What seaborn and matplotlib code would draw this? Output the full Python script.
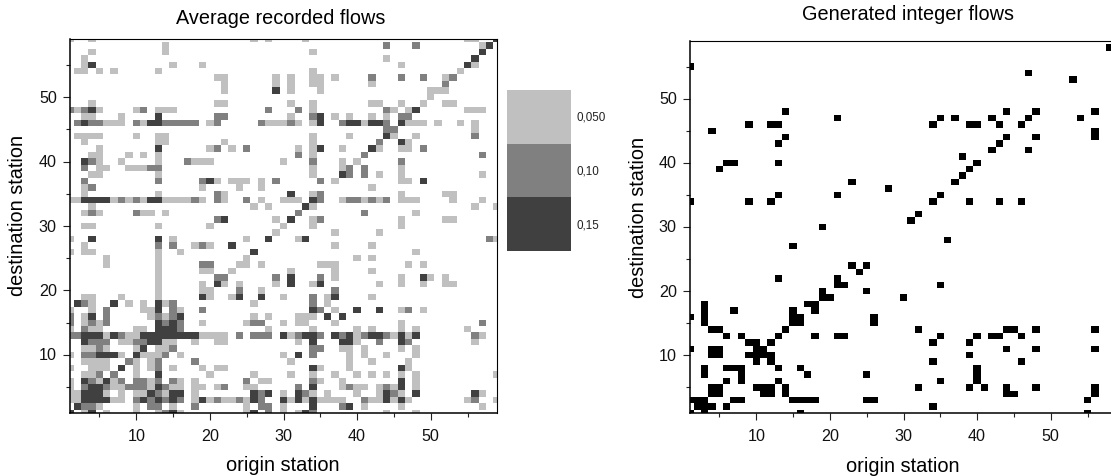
import numpy as np
import pandas as pd
import matplotlib.pyplot as plt
import seaborn as sns
from matplotlib.colors import ListedColormap
from matplotlib.ticker import FixedLocator

plt.rcParams['font.family'] = ['Liberation Sans', 'DejaVu Sans']

# destination station -> origin stations, one dict per flow level
flow_050 = {
    59: [1, 4, 26, 28, 33, 55, 56], 58: [14, 57], 57: [4, 14, 34], 56: [3, 44], 55: [3, 15, 19, 46, 56],
    54: [2, 3, 5, 7, 13, 34, 54], 53: [21, 22, 29, 31, 34, 35, 37, 52], 52: [22, 29, 31, 34, 35, 42],
    51: [22, 31, 35, 50, 51, 52], 50: [50], 49: [4, 21, 22, 31, 34, 42, 43, 46, 49, 52, 53],
    48: [2, 5, 10, 13, 14, 15, 34, 45, 47, 55, 56, 57], 47: [3, 4, 8, 31, 37, 39, 42, 44],
    46: [6, 7, 8, 11, 20, 28, 29, 30, 32, 34, 41, 47, 48, 49, 51, 54, 56], 45: [56],
    44: [2, 3, 4, 5, 10, 13, 14, 34, 39, 45, 48], 43: [3, 13, 14, 22, 34, 47],
    42: [5, 20, 23, 32, 34, 38, 43, 46, 47], 41: [4, 5, 9, 11, 13, 34],
    40: [5, 8, 13, 18, 19, 20, 30, 38, 40], 39: [5, 6, 9, 10, 11, 34, 38, 46],
    38: [4, 5, 13, 34, 43, 46, 57], 37: [21, 23, 24, 25, 27, 37, 46, 47], 36: [3, 19, 24, 27, 42],
    35: [3, 13, 22, 34, 46, 52, 53],
    34: [1, 2, 7, 9, 11, 14, 15, 16, 17, 19, 22, 27, 30, 31, 32, 38, 41, 43, 46, 47, 48, 53, 57],
    33: [4, 26, 28, 34, 56, 59], 32: [3, 5, 11, 12, 14, 48], 31: [29, 34, 46, 52, 53],
    30: [3, 4, 13, 20, 30, 34, 46], 29: [29, 37, 43], 28: [1, 15, 25, 32, 59],
    27: [3, 18, 20, 37, 42], 26: [1, 3, 4, 13, 16, 48], 25: [6, 13, 25, 40, 42],
    24: [6, 13, 24, 25, 27, 35, 36, 37, 47, 49], 23: [13, 19, 20, 23, 31, 37, 42],
    22: [13, 37, 46, 50, 52], 21: [13, 19, 22, 24, 29, 34, 43, 46, 49, 52, 53], 20: [13, 19, 20, 27],
    19: [3, 4, 8, 13, 20, 23, 30, 36, 42], 18: [4, 9, 11, 14, 26, 36],
    17: [1, 4, 11, 12, 16, 37, 46, 49], 16: [3, 12, 14, 26, 28, 32, 33, 34],
    15: [3, 5, 19, 25, 30, 32, 33, 37, 46], 14: [1, 4, 5, 10, 11, 28, 34, 40, 42, 46, 48, 55],
    13: [6, 9, 10, 19, 20, 21, 22, 31, 40, 45, 47, 57], 12: [8, 9, 14, 15, 18, 21, 22, 32, 40, 56],
    11: [3, 4, 6, 10, 13, 14, 38, 39, 41, 46, 48], 10: [1, 8, 11, 12, 13, 16, 30, 39, 41, 44, 48],
    9: [3, 4, 5, 6, 10, 12, 31, 39, 42, 47], 8: [1, 4, 5, 6, 10, 12, 15, 19, 21, 22, 35, 39, 47],
    7: [3, 4, 10, 20, 26, 31, 34, 37, 40, 42, 44, 46, 48, 59],
    6: [1, 5, 7, 12, 16, 18, 27, 28, 35, 38, 48],
    5: [1, 7, 8, 12, 15, 16, 18, 19, 21, 25, 26, 38, 40, 41, 43, 45, 48],
    4: [1, 2, 6, 8, 10, 11, 14, 18, 30, 34, 36, 40, 43, 46, 57],
    3: [1, 2, 7, 8, 18, 20, 22, 23, 25, 31, 33, 35, 36, 37, 38, 42, 43, 45, 47, 55, 59],
    2: [5, 10, 15, 25, 30, 41, 46, 57], 1: [3, 6, 10, 13, 16, 25, 30, 32, 44, 48],
}
flow_10 = {
    58: [44, 48, 58], 53: [42, 46, 49, 53], 52: [52], 48: [1, 3, 11, 28, 32, 44],
    47: [21, 22, 34, 46, 47], 46: [2, 4, 5, 10, 14, 15, 16, 17, 18, 21, 27, 31, 38, 44],
    45: [44, 45], 44: [56], 43: [43], 42: [21, 25, 49], 41: [32, 41, 57],
    40: [4, 17, 34, 46], 39: [3, 12, 13, 39, 41], 38: [39, 41],
    37: [3, 13, 19, 29, 35], 36: [4], 35: [21, 35],
    34: [8, 10, 18, 21, 25, 35, 39, 40, 42, 44], 32: [4, 10, 32, 41], 31: [21, 35],
    28: [58], 27: [13, 15, 19], 24: [19, 20], 22: [21, 22, 29, 35], 20: [24, 37], 19: [34],
    18: [3, 15, 34], 17: [6, 15, 19, 35, 47], 16: [1, 6, 13, 15],
    15: [1, 4, 6, 14, 16, 26, 27, 57], 14: [3, 16],
    13: [1, 2, 8, 24, 26, 27, 28, 32, 35, 38, 41, 44, 56],
    12: [4, 5, 6, 10, 11, 43, 47], 11: [5, 15, 34, 35], 10: [3, 4, 14, 34],
    9: [9, 13, 18], 8: [13], 7: [5, 7],
    6: [4, 8, 10, 11, 13, 15, 25, 34], 5: [3, 6, 9, 10, 11, 14, 22, 32, 39, 44],
    4: [13, 27, 33, 45], 3: [10, 12, 14, 16, 21, 24, 27, 41, 56],
    2: [3, 4, 12, 13, 18, 27, 28, 38], 1: [14, 28, 34],
}
flow_15 = {
    59: [59], 58: [58], 57: [57], 56: [56], 55: [4, 55], 51: [29], 48: [4, 48], 47: [13, 35],
    46: [3, 12, 13, 35, 39, 40, 42, 43, 46], 44: [44], 43: [46], 42: [13, 35, 42],
    40: [3], 38: [38], 37: [20, 49], 35: [31], 34: [3, 4, 5, 6, 12, 13, 34], 33: [33], 31: [22, 31],
    28: [4, 13, 28, 33], 27: [23], 26: [26], 22: [31, 49], 21: [21, 31, 35],
    19: [19, 24, 27, 37], 18: [2, 7, 13], 17: [13, 34, 40, 43], 16: [4, 16, 36, 38],
    15: [13, 15], 14: [13, 14, 15],
    13: [3, 4, 5, 7, 11, 12, 13, 14, 15, 16, 17, 18, 30, 33, 34, 37, 39, 42, 43, 46, 48],
    12: [3, 12, 13, 34, 38, 39, 46], 11: [11], 10: [5, 6, 7, 10, 32], 8: [8, 34, 46],
    7: [13], 6: [3, 6, 46], 5: [4, 5, 13, 34, 46],
    4: [3, 4, 5, 12, 15, 16, 26, 28, 32, 44, 48, 56],
    3: [3, 4, 5, 6, 11, 13, 15, 19, 26, 30, 32, 34, 44, 46],
    2: [2, 34, 39], 1: [1, 4, 15, 26, 33],
}

# generated integer flows: destination station -> origin stations
generated = {
    58: [58], 55: [1], 54: [47], 53: [53], 48: [14, 44, 48, 56],
    47: [21, 35, 37, 42, 47, 54], 46: [9, 12, 13, 34, 39, 40, 43, 46], 45: [4, 56],
    44: [14, 44, 48, 56], 43: [13, 43], 42: [42, 47], 41: [38], 40: [6, 7, 13, 40],
    39: [5, 39], 38: [38], 37: [23, 37], 36: [28], 35: [13, 21, 35],
    34: [1, 9, 12, 34, 39, 43, 46], 32: [32], 31: [31], 30: [19], 28: [36], 27: [15],
    24: [23, 25], 23: [24], 22: [13, 21], 21: [21, 22, 35], 20: [19, 25], 19: [19, 20, 30],
    18: [3, 17, 18], 17: [3, 7, 15, 18], 16: [1, 3, 15, 16, 26], 15: [3, 15, 16, 26],
    14: [4, 5, 14, 32, 44, 45, 48, 56], 13: [6, 8, 13, 18, 21, 22, 35, 40, 42, 43, 46],
    12: [9, 10, 12, 34, 39], 11: [1, 4, 5, 10, 11, 44, 48, 56], 10: [4, 5, 9, 10, 11, 12, 39],
    9: [10, 12, 34, 46], 8: [3, 6, 7, 8, 13, 16, 40], 7: [3, 8, 17, 25, 40],
    6: [6, 8, 13, 35, 40], 5: [4, 5, 10, 11, 12, 14, 32, 39, 41, 44, 48, 56],
    4: [4, 5, 11, 12, 14, 44, 45, 56], 3: [1, 2, 3, 7, 8, 15, 16, 17, 18, 25, 26, 55],
    2: [2, 3, 4, 6, 34], 1: [1, 3, 16, 55],
}

stations = np.arange(1, 60)
level_values = [0.05, 0.10, 0.15]
level_labels = ['0,050', '0,10', '0,15']
major_ticks = [10, 20, 30, 40, 50]
minor_ticks = [5, 15, 25, 35, 45, 55]

recorded = pd.DataFrame(0.0, index=stations, columns=stations)
for value, cells in zip(level_values, [flow_050, flow_10, flow_15]):
    for dest, origins in cells.items():
        recorded.loc[dest, origins] = value

integer_flows = pd.DataFrame(0.0, index=stations, columns=stations)
for dest, origins in generated.items():
    integer_flows.loc[dest, origins] = 1.0

W, H = 1111, 477
fig = plt.figure(figsize=(W / 100, H / 100), dpi=100)


def box(x0, y0, x1, y1):
    return [x0 / W, 1 - y1 / H, (x1 - x0) / W, (y1 - y0) / H]


def style_axes(ax):
    # seaborn puts station s in the cell from s-1 to s, so the centre is s-0.5
    ax.set_xlim(0.5, 58.5)
    ax.set_ylim(0.5, 58.5)
    for axis in [ax.xaxis, ax.yaxis]:
        axis.set_major_locator(FixedLocator([t - 0.5 for t in major_ticks]))
        axis.set_minor_locator(FixedLocator([t - 0.5 for t in minor_ticks]))
    ax.set_xticklabels(major_ticks, rotation=0)
    ax.set_yticklabels(major_ticks, rotation=0)
    ax.tick_params(which='major', length=5, width=0.8, labelsize=11.6, color='#222222', labelcolor='#111111')
    ax.tick_params(axis='x', which='major', pad=5.5)
    ax.tick_params(axis='y', which='major', pad=4.5)
    ax.tick_params(which='minor', length=2.8, width=0.8, color='#222222')
    ax.set_xlabel('')
    ax.set_ylabel('')
    for side in ['left', 'bottom']:
        ax.spines[side].set_visible(True)
        ax.spines[side].set_linewidth(1.1)
    for side in ['top', 'right']:
        ax.spines[side].set_visible(True)
        ax.spines[side].set_linewidth(0.8)
    top = ax.secondary_xaxis('top')
    top.set_xticks([t - 0.5 for t in major_ticks + minor_ticks], labels=[])
    top.tick_params(length=1.2, width=0.5, direction='in')
    top.spines['top'].set_visible(False)
    right = ax.secondary_yaxis('right')
    right.set_yticks([t - 0.5 for t in major_ticks + minor_ticks], labels=[])
    right.tick_params(length=1.2, width=0.5, direction='in')
    right.spines['right'].set_visible(False)


ax1 = fig.add_axes(box(70, 40, 497, 414))
sns.heatmap(recorded, ax=ax1, cbar=False, vmin=0, vmax=0.15,
            cmap=ListedColormap(['white', '#c0c0c0', '#808080', '#404040']))
style_axes(ax1)

# the right frame runs past the edge of the picture
ax2 = fig.add_axes(box(690, 42, 1117, 414))
sns.heatmap(integer_flows, ax=ax2, cbar=False, vmin=0, vmax=1,
            cmap=ListedColormap(['white', 'black']))
style_axes(ax2)

cax = fig.add_axes(box(507, 91, 571, 252))
sns.heatmap(np.array(level_values).reshape(-1, 1), ax=cax, cbar=False, vmin=0.05, vmax=0.15,
            cmap=ListedColormap(['#c0c0c0', '#808080', '#404040']),
            xticklabels=False, yticklabels=False)
for i, label in enumerate(level_labels):
    cax.text(1.08, i + 0.5, label, fontsize=8.4, va='center', ha='left', color='#222222')

fig.text(280.6 / W, 1 - 18.5 / H, 'Average recorded flows', fontsize=14.3, ha='center', va='center')
fig.text(908.5 / W, 1 - 14 / H, 'Generated integer flows', fontsize=14.3, ha='center', va='center')
fig.text(283 / W, 1 - 466 / H, 'origin station', fontsize=14.4, ha='center', va='center')
fig.text(903 / W, 1 - 467 / H, 'origin station', fontsize=14.4, ha='center', va='center')
fig.text(18 / W, 1 - 215.5 / H, 'destination station', fontsize=14.3, rotation=90, ha='center', va='center')
fig.text(638 / W, 1 - 217 / H, 'destination station', fontsize=14.3, rotation=90, ha='center', va='center')

fig.savefig('out.png', dpi=100)
